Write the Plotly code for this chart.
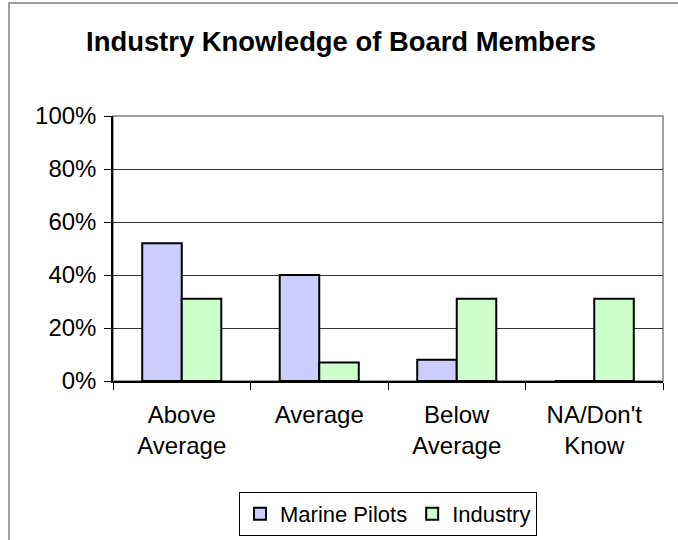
import plotly.graph_objects as go

categories = ["Above<br>Average", "Average", "Below<br>Average", "NA/Don't<br>Know"]
marine_pilots = [52, 40, 8, 0]
industry = [31, 7, 31, 31]
y_ticks = [0, 20, 40, 60, 80, 100]
y_tick_labels = ["0%", "20%", "40%", "60%", "80%", "100%"]

FONT = "Liberation Sans, Arial, sans-serif"

fig = go.Figure()
fig.add_trace(go.Bar(
    name="Marine Pilots", x=categories, y=marine_pilots,
    marker=dict(color="#CCCCFF", line=dict(color="#000000", width=2)),
))
fig.add_trace(go.Bar(
    name="Industry", x=categories, y=industry,
    marker=dict(color="#CCFFCC", line=dict(color="#000000", width=2)),
))

L, R, T, B = 113, 15, 116, 159
W, H = 678, 540
pw = W - L - R
ph = H - T - B

fig.update_layout(
    width=W, height=H, autosize=False,
    margin=dict(l=L, r=R, t=T, b=B, pad=0, autoexpand=False),
    paper_bgcolor="white", plot_bgcolor="white",
    font=dict(family=FONT, color="#000000", size=24),
    title=dict(
        text="<b>Industry Knowledge of Board Members</b>",
        font=dict(family=FONT, size=27.4, color="#000000"),
        x=341 / W, xanchor="center", xref="container",
        y=1 - 41 / H, yanchor="middle", yref="container",
    ),
    barmode="group", bargap=0.425, bargroupgap=0,
    showlegend=True,
    legend=dict(
        orientation="h", x=0.5, xanchor="center", xref="paper",
        y=1 - 492 / H, yanchor="top", yref="container",
        bordercolor="#000000", borderwidth=1,
        font=dict(family=FONT, size=22, color="#000000"),
        bgcolor="white",
    ),
    shapes=[
        # plot-area frame (gray top/right)
        dict(type="rect", xref="paper", yref="paper", x0=0, x1=1, y0=0, y1=1,
             line=dict(color="#808080", width=1.5), layer="below"),
        # chart-area outer border (right and bottom edges lie outside the view)
        dict(type="rect", xref="paper", yref="paper",
             x0=(9 - L) / pw, x1=(W + 60 - L) / pw,
             y0=-(H + 60 - T - ph) / ph, y1=(ph + T - 3) / ph,
             line=dict(color="#808080", width=1.5), layer="below"),
    ],
)

fig.update_xaxes(
    automargin=False,
    showline=True, linecolor="#000000", linewidth=1.5,
    ticks="outside", ticklen=7, tickcolor="#000000", tickwidth=1,
    tickson="boundaries", showgrid=False,
    tickfont=dict(family=FONT, size=24, color="#000000"),
    ticklabelstandoff=11,
)
fig.update_yaxes(
    automargin=False,
    range=[0, 100], tickvals=y_ticks, ticktext=y_tick_labels,
    showline=True, linecolor="#000000", linewidth=1.5,
    ticks="outside", ticklen=7, tickcolor="#000000", tickwidth=1,
    showgrid=True, gridcolor="#333333", gridwidth=1,
    zeroline=False,
    tickfont=dict(family=FONT, size=24, color="#000000"),
    ticklabelstandoff=3,
)

fig.write_html(
    "out.html",
    config={"displayModeBar": False},
    post_script="document.body.style.margin='0';",
)
